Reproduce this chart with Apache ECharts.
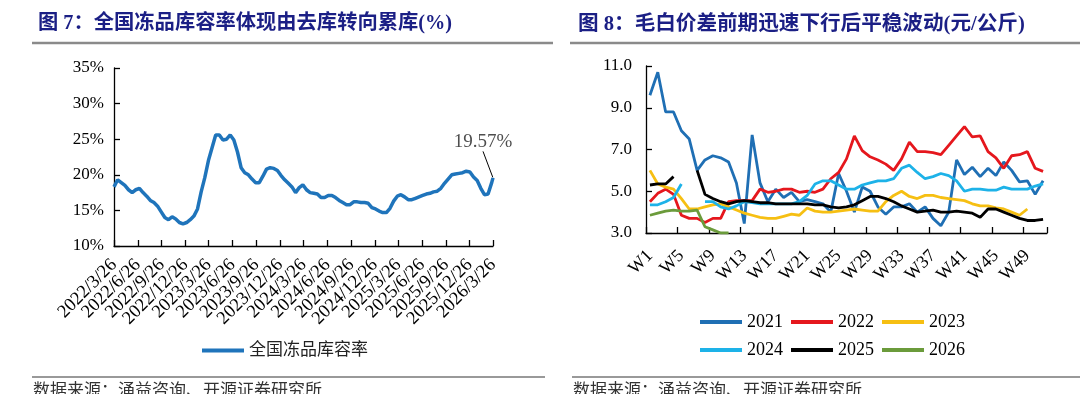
<!DOCTYPE html>
<html><head><meta charset="utf-8">
<script src="https://cdn.jsdelivr.net/npm/echarts@6/dist/echarts.min.js"></script>
<style>html,body{margin:0;padding:0;background:#fff;}#c{width:1080px;height:394px;}</style>
</head><body><div id="c"></div>
<script>
// ---------- Figure 7 data ----------
const stockDates = ['2022-03-26','2022-04-09','2022-04-23','2022-05-07','2022-05-21','2022-06-04','2022-06-18','2022-07-02','2022-07-16','2022-07-30',
'2022-08-13','2022-08-27','2022-09-10','2022-09-24','2022-10-08','2022-10-22','2022-11-05','2022-11-19','2022-12-03','2022-12-17',
'2022-12-31','2023-01-14','2023-01-28','2023-02-11','2023-02-25','2023-03-11','2023-03-25','2023-04-08','2023-04-22','2023-05-06',
'2023-05-20','2023-06-03','2023-06-17','2023-07-01','2023-07-15','2023-07-29','2023-08-12','2023-08-26','2023-09-09','2023-09-23',
'2023-10-07','2023-10-21','2023-11-04','2023-11-18','2023-12-02','2023-12-16','2023-12-30','2024-01-13','2024-01-27','2024-02-10',
'2024-02-24','2024-03-09','2024-03-23','2024-04-06','2024-04-20','2024-05-04','2024-05-18','2024-06-01','2024-06-15','2024-06-29',
'2024-07-13','2024-07-27','2024-08-10','2024-08-24','2024-09-07','2024-09-21','2024-10-05','2024-10-19','2024-11-02','2024-11-16',
'2024-11-30','2024-12-14','2024-12-28','2025-01-11','2025-01-25','2025-02-08','2025-02-22','2025-03-08','2025-03-22','2025-04-05',
'2025-04-19','2025-05-03','2025-05-17','2025-05-31','2025-06-14','2025-06-28','2025-07-12','2025-07-26','2025-08-09','2025-08-23',
'2025-09-06','2025-09-20','2025-10-04','2025-10-18','2025-11-01','2025-11-15','2025-11-29','2025-12-13','2025-12-27','2026-01-10',
'2026-01-24','2026-02-07','2026-02-21','2026-03-07','2026-03-21','2026-03-26'];
const stockRate = [18.3,19.3,18.9,18.5,17.9,17.5,17.9,18.1,17.5,17.0,
16.4,16.1,15.6,14.8,14.0,13.7,14.1,13.8,13.3,13.1,
13.3,13.7,14.2,15.2,17.6,19.6,22.0,23.8,25.6,25.6,
24.9,25.0,25.6,24.9,23.2,21.0,20.3,20.0,19.4,18.9,
18.9,19.8,20.8,21.0,20.9,20.6,19.9,19.3,18.8,18.3,
17.5,18.2,18.6,17.9,17.5,17.4,17.3,16.8,16.8,17.1,
17.1,16.8,16.4,16.1,15.8,15.8,16.2,16.2,16.1,16.1,
16.0,15.4,15.2,14.9,14.7,14.7,15.3,16.3,17.0,17.2,
16.9,16.5,16.5,16.7,16.9,17.1,17.3,17.4,17.6,17.7,
18.1,18.8,19.4,20.0,20.1,20.2,20.3,20.5,20.4,19.7,
19.2,18.1,17.2,17.3,18.9,19.57];
const stockTicks = ['2022/3/26','2022/6/26','2022/9/26','2022/12/26','2023/3/26','2023/6/26','2023/9/26','2023/12/26',
'2024/3/26','2024/6/26','2024/9/26','2024/12/26','2025/3/26','2025/6/26','2025/9/26','2025/12/26','2026/3/26'];
const stockName = '全国冻品库容率';
const stockYTicks = [10, 15, 20, 25, 30, 35];

// ---------- Figure 8 data ----------
const weeks = ['W1','W2','W3','W4','W5','W6','W7','W8','W9','W10','W11','W12','W13','W14','W15','W16','W17','W18','W19','W20',
'W21','W22','W23','W24','W25','W26','W27','W28','W29','W30','W31','W32','W33','W34','W35','W36','W37','W38','W39','W40',
'W41','W42','W43','W44','W45','W46','W47','W48','W49','W50','W51'];
const y2021 = [9.6,10.7,8.8,8.8,7.9,7.5,6.0,6.5,6.7,6.6,6.4,5.4,3.45,7.7,5.4,4.5,5.1,4.7,4.95,4.5,4.6,4.5,4.4,4.0,5.85,5.0,4.0,5.2,5.0,4.25,3.9,4.25,4.25,4.4,4.0,4.25,3.7,3.35,4.0,6.5,5.8,6.15,5.7,6.1,5.75,6.4,6.0,5.45,5.5,4.85,5.5];
const y2022 = [4.5,4.9,5.1,4.85,3.85,3.7,3.7,3.5,3.7,3.7,4.5,4.55,4.55,4.55,5.1,4.95,5.0,5.1,5.1,4.95,5.0,4.95,5.1,5.6,5.9,6.55,7.65,6.95,6.65,6.5,6.3,6.0,6.55,7.35,6.9,6.9,6.85,6.75,7.2,7.65,8.1,7.6,7.65,6.9,6.6,6.1,6.7,6.75,6.9,6.1,5.95];
const y2023 = [6.0,5.35,5.2,5.1,4.65,4.15,4.15,4.25,4.35,4.4,4.25,4.1,3.95,3.85,3.75,3.7,3.7,3.8,3.9,3.85,4.2,4.05,4.0,4.0,4.05,4.1,4.15,4.1,4.05,4.05,4.5,4.8,5.0,4.75,4.65,4.8,4.8,4.7,4.65,4.6,4.55,4.4,4.3,4.3,4.2,4.15,4.0,3.85,4.15,null,null];
const y2024 = [4.35,4.35,4.5,4.7,5.35,null,null,4.5,4.5,4.25,4.15,4.3,4.5,4.45,4.4,4.4,4.4,4.4,4.4,4.5,4.8,5.35,5.5,5.5,5.3,5.1,5.1,5.3,5.4,5.5,5.5,5.6,6.1,6.25,5.9,5.6,5.7,5.85,5.75,5.5,5.0,5.1,5.1,5.05,5.05,5.2,5.1,5.1,5.1,5.25,5.35];
const y2025 = [5.3,5.35,5.35,5.7,null,null,6.0,4.85,4.65,4.5,4.4,4.5,4.55,4.5,4.45,4.45,4.4,4.4,4.4,4.4,4.4,4.35,4.35,4.25,4.2,4.25,4.35,4.55,4.75,4.75,4.65,4.5,4.3,4.15,4.0,4.05,4.1,4.0,4.0,4.05,4.0,3.95,3.75,4.15,4.15,4.0,3.85,3.7,3.6,3.6,3.65];
const y2026 = [3.85,3.95,4.05,4.1,4.05,4.05,4.1,3.3,3.15,3.0,3.0];
const yearNames = ['2021','2022','2023','2024','2025','2026'];
const yearColors = ['#1f6fb4','#e5171d','#f6bf12','#1db2e8','#000000','#6b9b3b'];
const priceYTicks = [3, 5, 7, 9, 11];

// ---------- texts ----------
const title7 = '图 7：全国冻品库容率体现由去库转向累库(%)';
const title8 = '图 8：毛白价差前期迅速下行后平稳波动(元/公斤)';
const sourceText = '数据来源：涌益咨询、开源证券研究所';

const FONT = "'Liberation Serif','Noto Sans CJK SC',serif";
function toTs(s){ const p = s.split(/[\/-]/).map(Number); return new Date(p[0], p[1]-1, p[2]).getTime(); }
const tickTs = stockTicks.map(toTs);
const tickEven = tickTs.filter((_, i) => i % 2 === 0);
const tickOdd = tickTs.filter((_, i) => i % 2 === 1);
const stockData = stockDates.map((d,i)=>[toTs(d), stockRate[i]]);
const lastPoint = stockData[stockData.length-1];
const fmtDate = (v)=>{const d=new Date(v); return d.getFullYear()+'/'+(d.getMonth()+1)+'/'+d.getDate();};

const chart = echarts.init(document.getElementById('c'), null, {renderer:'canvas'});
const axisLineStyle = {color:'#000', width:1.3};
const yearSeries = [y2021,y2022,y2023,y2024,y2025,y2026].map((arr,i)=>({
  name: yearNames[i], type:'line', xAxisIndex:1, yAxisIndex:1, data: arr,
  showSymbol:false, symbol:'none', lineStyle:{width:2.8, color: yearColors[i]}, itemStyle:{color: yearColors[i]},
  z: i===4 ? 4 : 3
}));
const dateLabelStyle = {rotate:45, margin:16, fontFamily:FONT, fontSize:18.5, color:'#000',
  showMinLabel:true, showMaxLabel:true, hideOverlap:false, formatter:fmtDate};

chart.setOption({
  animation:false,
  backgroundColor:'#fff',
  title:[
    {text:title7, left:33, top:9, textStyle:{fontFamily:FONT, fontWeight:'bold', fontSize:20.3, color:'#1b1f85'}},
    {text:title8, left:573, top:9, textStyle:{fontFamily:FONT, fontWeight:'bold', fontSize:20.6, color:'#1b1f85'}}
  ],
  graphic:[
    {type:'line', shape:{x1:32,y1:43,x2:553,y2:43}, style:{stroke:'#8a8a8a', lineWidth:2.5}},
    {type:'line', shape:{x1:570,y1:43,x2:1080,y2:43}, style:{stroke:'#8a8a8a', lineWidth:2.5}},
    {type:'line', shape:{x1:32,y1:377,x2:545,y2:377}, style:{stroke:'#777', lineWidth:1.5}},
    {type:'line', shape:{x1:572,y1:377,x2:1080,y2:377}, style:{stroke:'#777', lineWidth:1.5}},
    {type:'text', left:33, top:381, style:{text:sourceText, font:"17px 'Noto Sans CJK SC'", fill:'#333'}},
    {type:'text', left:573, top:381, style:{text:sourceText, font:"17px 'Noto Sans CJK SC'", fill:'#333'}}
  ],
  legend:[
    {data:[stockName], left:197, top:337, icon:'rect', itemWidth:42, itemHeight:4, itemGap:10, selectedMode:false,
     textStyle:{fontFamily:FONT, fontSize:17, color:'#222'}},
    {data:yearNames.slice(0,3), left:695, top:308, icon:'rect', itemWidth:42, itemHeight:4, itemGap:8, selectedMode:false,
     textStyle:{fontFamily:FONT, fontSize:18, color:'#000'}},
    {data:yearNames.slice(3), left:695, top:336, icon:'rect', itemWidth:42, itemHeight:4, itemGap:8, selectedMode:false,
     textStyle:{fontFamily:FONT, fontSize:18, color:'#000'}}
  ],
  grid:[
    {left:114, top:68, width:379, height:178},
    {left:646, top:66, width:401, height:167}
  ],
  xAxis:[
    {type:'value', gridIndex:0, min:tickTs[0], max:tickTs[tickTs.length-1], scale:true,
     axisLine:{lineStyle:axisLineStyle}, splitLine:{show:false},
     axisTick:{show:true, inside:true, length:6, lineStyle:axisLineStyle, customValues:tickTs},
     axisLabel:Object.assign({customValues:tickEven}, dateLabelStyle)},
    {type:'category', gridIndex:1, data:weeks, boundaryGap:true,
     axisLine:{lineStyle:axisLineStyle},
     axisTick:{show:true, inside:true, length:6, interval:3, lineStyle:axisLineStyle},
     axisLabel:{interval:3, rotate:45, margin:20, fontFamily:FONT, fontSize:18, color:'#000'}},
    {type:'value', gridIndex:0, min:tickTs[0], max:tickTs[tickTs.length-1], scale:true, position:'bottom',
     axisLine:{show:false}, axisTick:{show:false}, splitLine:{show:false},
     axisLabel:Object.assign({customValues:tickOdd}, dateLabelStyle)}
  ],
  yAxis:[
    {type:'value', gridIndex:0, min:stockYTicks[0], max:stockYTicks[stockYTicks.length-1], interval:5,
     axisLine:{show:true, lineStyle:axisLineStyle}, splitLine:{show:false},
     axisTick:{show:true, inside:true, length:6, lineStyle:axisLineStyle},
     axisLabel:{margin:10, fontFamily:FONT, fontSize:17, color:'#000', formatter:'{value}%'}},
    {type:'value', gridIndex:1, min:priceYTicks[0], max:priceYTicks[priceYTicks.length-1], interval:2,
     axisLine:{show:true, lineStyle:axisLineStyle}, splitLine:{show:false},
     axisTick:{show:true, inside:true, length:6, lineStyle:axisLineStyle},
     axisLabel:{margin:14, fontFamily:FONT, fontSize:17, color:'#000', formatter:(v)=>v.toFixed(1)}}
  ],
  series:[
    {name:stockName, type:'line', xAxisIndex:0, yAxisIndex:0, data:stockData, showSymbol:false, symbol:'none',
     lineStyle:{width:3.5, color:'#1f74bb'}, itemStyle:{color:'#1f74bb'}},
    {name:'label', type:'scatter', xAxisIndex:0, yAxisIndex:0, data:[lastPoint], symbolSize:1,
     itemStyle:{color:'rgba(0,0,0,0)'},
     label:{show:true, position:'top', distance:4, fontFamily:FONT, fontSize:19, color:'#222',
       formatter:(p)=>p.value[1].toFixed(2)+'%'},
     labelLayout:{dx:-10, dy:-22},
     labelLine:{show:true, lineStyle:{color:'#000', width:1}}}
  ].concat(yearSeries)
});
</script></body></html>
